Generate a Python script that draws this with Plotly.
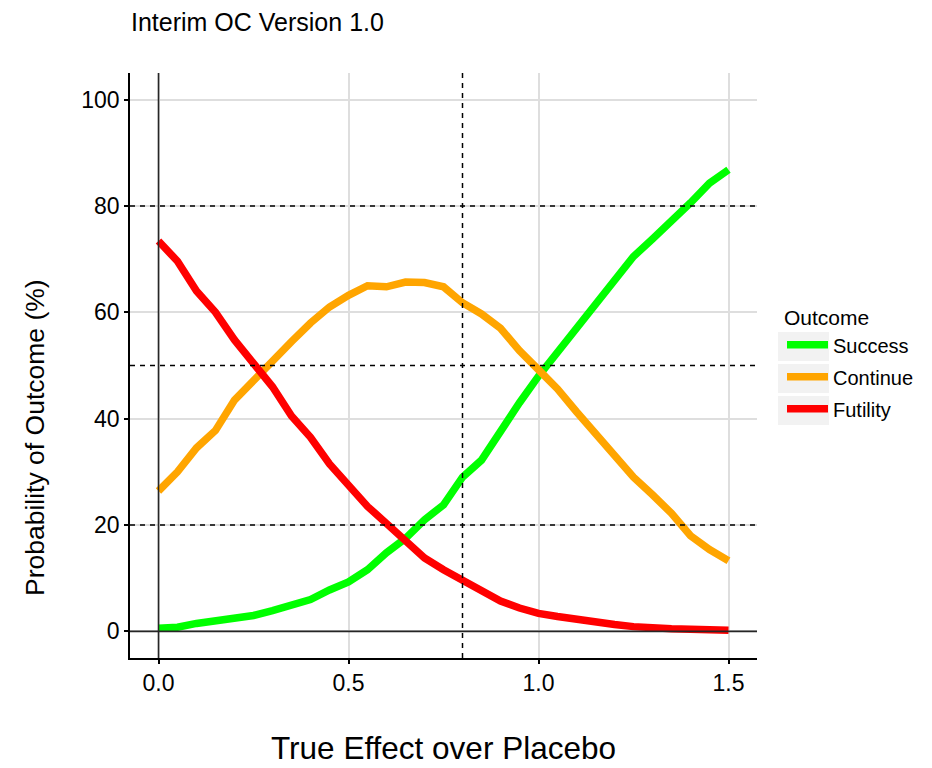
import plotly.graph_objects as go

# ---------------- data ----------------
effect = [0.00, 0.05, 0.10, 0.15, 0.20, 0.25, 0.30, 0.35, 0.40, 0.45,
          0.50, 0.55, 0.60, 0.65, 0.70, 0.75, 0.80, 0.85, 0.90, 0.95,
          1.00, 1.05, 1.10, 1.15, 1.20, 1.25, 1.30, 1.35, 1.40, 1.45, 1.50]

success = [0.6, 0.8, 1.5, 1.9, 2.4, 3.0, 3.9, 5.0, 6.0, 7.8,
           9.3, 11.6, 14.8, 17.5, 21.0, 23.8, 29.0, 32.2, 37.8, 43.0,
           48.0, 52.5, 57.3, 61.6, 66.0, 70.5, 73.8, 77.0, 80.6, 84.3, 86.8]

continue_ = [26.4, 30.0, 34.5, 37.8, 43.5, 47.2, 51.2, 54.5, 58.0, 61.0,
             63.2, 65.0, 64.8, 65.7, 65.6, 64.8, 61.8, 59.7, 57.0, 52.8,
             49.2, 45.6, 41.3, 37.2, 33.3, 29.0, 25.7, 22.2, 18.0, 15.4, 13.3]

futility = [73.4, 69.6, 64.0, 60.0, 54.8, 50.4, 46.0, 40.5, 36.5, 31.5,
            27.5, 23.5, 20.3, 17.0, 13.8, 11.6, 9.5, 7.5, 5.7, 4.4,
            3.4, 2.8, 2.2, 1.6, 1.3, 0.9, 0.6, 0.5, 0.4, 0.3, 0.2]

series_names = ["Success", "Continue", "Futility"]
series_colors = ["#00FF00", "#FFA500", "#FF0000"]

x_ticks = [0.0, 0.5, 1.0, 1.5]
y_ticks = [0, 20, 40, 60, 80, 100]

hlines_dashed = [20, 50, 80]
vlines_dashed = [0.8]
hline_solid = 0
vline_solid = 0

title_text = "Interim OC Version 1.0"
x_title = "True Effect over Placebo"
y_title = "Probability of Outcome (%)"
legend_title = "Outcome"

# ---------------- figure ----------------
FONT = "Liberation Sans, Arial, Helvetica, sans-serif"

OFF = 8  # default page body margin
W, H = 932 - OFF, 768 - OFF
ML, MT = 130 - OFF, 73 - OFF
MR = W - (757 - OFF)
MB = H - (658 - OFF)
PW, PH = W - ML - MR, H - MT - MB


def px_to_paper_x(px):
    return (px - OFF - ML) / PW


def px_to_paper_y(py):
    return (H - MB - (py - OFF)) / PH


fig = go.Figure()
for name, ys, col in zip(series_names, [success, continue_, futility], series_colors):
    fig.add_trace(go.Scatter(
        x=effect, y=ys, mode="lines", name=name, legendgroup=name,
        line=dict(color=col, width=7.5),
    ))

shapes = []
for yv in hlines_dashed:
    shapes.append(dict(type="line", xref="paper", yref="y", x0=0, x1=1, y0=yv, y1=yv,
                       line=dict(color="black", width=1.5, dash="5px,5px"), layer="above"))
for xv in vlines_dashed:
    shapes.append(dict(type="line", xref="x", yref="paper", x0=xv, x1=xv, y0=0, y1=1,
                       line=dict(color="black", width=1.5, dash="5px,5px"), layer="above"))
shapes.append(dict(type="line", xref="paper", yref="y", x0=0, x1=1, y0=hline_solid, y1=hline_solid,
                   line=dict(color="#262626", width=1.6), layer="above"))
shapes.append(dict(type="line", xref="x", yref="paper", x0=vline_solid, x1=vline_solid, y0=0, y1=1,
                   line=dict(color="#262626", width=1.6), layer="above"))

# grey legend key backgrounds
for i in range(len(series_names)):
    top = 332 + 32 * i
    shapes.append(dict(type="rect", xref="paper", yref="paper",
                       x0=px_to_paper_x(778), x1=px_to_paper_x(829),
                       y0=px_to_paper_y(top + 29), y1=px_to_paper_y(top),
                       fillcolor="#F2F2F2", line=dict(width=0), layer="below"))

fig.update_layout(
    width=W, height=H,
    margin=dict(l=ML, r=MR, t=MT, b=MB, pad=0),
    paper_bgcolor="white", plot_bgcolor="white",
    title=dict(text=title_text, x=px_to_paper_x(131), xref="paper", xanchor="left",
               y=1 - 5 / H, yref="container", yanchor="top",
               font=dict(family=FONT, size=25, color="black")),
    xaxis=dict(
        range=[-0.075, 1.575], tickvals=x_ticks, tickformat=".1f",
        showgrid=True, gridcolor="#DEDEDE", gridwidth=1.5,
        showline=True, linecolor="black", linewidth=1.5,
        ticks="outside", ticklen=4, tickwidth=1.5, tickcolor="black",
        tickfont=dict(family=FONT, size=23, color="black"),
        zeroline=False, automargin=False,
        title=dict(text=x_title, standoff=42, font=dict(family=FONT, size=31.5, color="black")),
    ),
    yaxis=dict(
        range=[-5, 105], tickvals=y_ticks,
        showgrid=True, gridcolor="#DEDEDE", gridwidth=1.5,
        showline=True, linecolor="black", linewidth=1.5,
        ticks="outside", ticklen=4, tickwidth=1.5, tickcolor="black",
        tickfont=dict(family=FONT, size=23, color="black"),
        zeroline=False, automargin=False,
    ),
    legend=dict(
        x=px_to_paper_x(782), xanchor="left", y=px_to_paper_y(298), yanchor="top",
        bgcolor="rgba(0,0,0,0)", borderwidth=0, itemwidth=41,
        font=dict(family=FONT, size=20, color="black"),
        title=dict(text=legend_title, font=dict(family=FONT, size=21, color="black")),
        traceorder="grouped", tracegroupgap=3,
    ),
    shapes=shapes,
    annotations=[dict(text=y_title, xref="paper", yref="paper",
                      x=px_to_paper_x(35), y=px_to_paper_y(438),
                      xanchor="center", yanchor="middle", textangle=-90, showarrow=False,
                      font=dict(family=FONT, size=26.5, color="black"))],
)

fig.write_html("out.html")
